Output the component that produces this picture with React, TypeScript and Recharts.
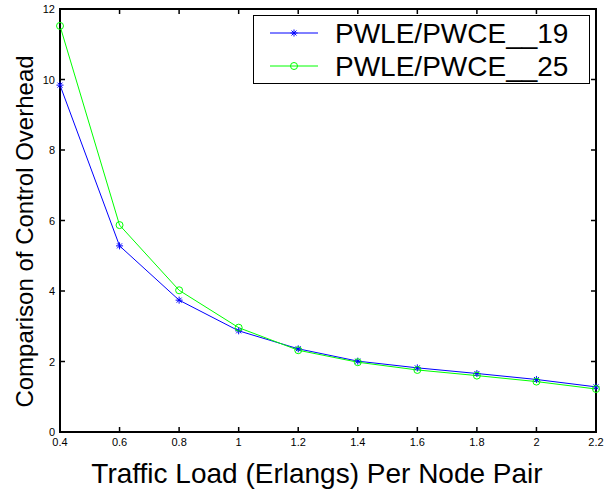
import React from "react";
import { Legend, Line, LineChart, ReferenceArea, ReferenceLine, XAxis, YAxis } from "recharts";

const loads = [0.4, 0.6, 0.8, 1.0, 1.2, 1.4, 1.6, 1.8, 2.0, 2.2];
const pwce19 = [9.84, 5.28, 3.74, 2.87, 2.36, 2.01, 1.82, 1.66, 1.49, 1.28];
const pwce25 = [11.52, 5.87, 4.02, 2.96, 2.32, 1.98, 1.76, 1.6, 1.43, 1.22];
const xTicks = [0.4, 0.6, 0.8, 1, 1.2, 1.4, 1.6, 1.8, 2, 2.2];
const yTicks = [0, 2, 4, 6, 8, 10, 12];

const data = loads.map((x, i) => ({ x, s19: pwce19[i], s25: pwce25[i] }));

const BLUE = "#0000ff";
const GREEN = "#00ff00";
const FRAME = "#000";

const W = 604;
const H = 495;
const MARGIN = { top: 9, right: 8, bottom: 0, left: 0 };
const Y_AXIS_W = 60;
const X_AXIS_H = 63;
// plot box size, used to mirror the inward ticks onto the top and right edges
const PLOT_W = W - MARGIN.left - MARGIN.right - Y_AXIS_W;
const PLOT_H = H - MARGIN.top - MARGIN.bottom - X_AXIS_H;
const TICK = 5;

function Star({ cx, cy, color }: { cx: number; cy: number; color: string }) {
  const r = 3.5;
  const d = 2.5;
  return (
    <g stroke={color} strokeWidth={1}>
      <line x1={cx - r} y1={cy} x2={cx + r} y2={cy} />
      <line x1={cx} y1={cy - r} x2={cx} y2={cy + r} />
      <line x1={cx - d} y1={cy - d} x2={cx + d} y2={cy + d} />
      <line x1={cx - d} y1={cy + d} x2={cx + d} y2={cy - d} />
    </g>
  );
}

const starDot = (p: any) => <Star key={p.index} cx={p.cx} cy={p.cy} color={BLUE} />;
const circleDot = (p: any) => (
  <circle key={p.index} cx={p.cx} cy={p.cy} r={3.5} fill="none" stroke={GREEN} strokeWidth={1} />
);

// inward tick marks on all four sides, MATLAB style
const BottomTick = (p: any) => (
  <g>
    <path d={`M${p.x},${p.y}V${p.y - TICK}`} stroke={FRAME} strokeWidth={1.5} />
    <path d={`M${p.x},${p.y - PLOT_H}V${p.y - PLOT_H + TICK}`} stroke={FRAME} strokeWidth={1.5} />
    <text x={p.x} y={p.y + 14} textAnchor="middle" fontSize={11} fill="#000">
      {p.payload.value}
    </text>
  </g>
);
const LeftTick = (p: any) => (
  <g>
    <path d={`M${p.x},${p.y}H${p.x + TICK}`} stroke={FRAME} strokeWidth={1.5} />
    <path d={`M${p.x + PLOT_W},${p.y}H${p.x + PLOT_W - TICK}`} stroke={FRAME} strokeWidth={1.5} />
    <text x={p.x - 5} y={p.y + 4} textAnchor="end" fontSize={11} fill="#000">
      {p.payload.value}
    </text>
  </g>
);

function LegendBox({ payload }: any) {
  return (
    <div
      style={{
        width: 337,
        height: 69,
        border: "1px solid #000",
        boxSizing: "border-box",
        background: "#fff",
      }}
    >
      <svg width={335} height={67} style={{ display: "block" }}>
        {(payload || []).map((p: any, i: number) => {
          const cy = 17 + i * 33;
          return (
            <g key={p.value}>
              <line x1={16} y1={cy} x2={64} y2={cy} stroke={p.color} />
              {p.dataKey === "s19" ? (
                <Star cx={40} cy={cy} color={p.color} />
              ) : (
                <circle cx={40} cy={cy} r={3.5} fill="none" stroke={p.color} />
              )}
              <text x={81} y={cy + 10} fontSize={28} fill="#000">
                {p.value}
              </text>
            </g>
          );
        })}
      </svg>
    </div>
  );
}

export default function App() {
  return (
    <div
      style={{
        position: "absolute",
        left: 0,
        top: 0,
        fontFamily: "'Liberation Sans', Arial, sans-serif",
        background: "#fff",
      }}
    >
      <LineChart width={W} height={H} data={data} margin={MARGIN}>
        <XAxis
          dataKey="x"
          type="number"
          domain={[0.4, 2.2]}
          ticks={xTicks}
          interval={0}
          height={X_AXIS_H}
          tickSize={0}
          tickMargin={0}
          tick={BottomTick}
          axisLine={{ stroke: "#000", strokeWidth: 2 }}
          label={{
            value: "Traffic Load (Erlangs) Per Node Pair",
            position: "insideBottom",
            offset: 12,
            dx: -11,
            fontSize: 28,
            fill: "#000",
          }}
        />
        <YAxis
          type="number"
          domain={[0, 12]}
          ticks={yTicks}
          interval={0}
          width={Y_AXIS_W}
          tickSize={0}
          tickMargin={0}
          tick={LeftTick}
          axisLine={{ stroke: "#000", strokeWidth: 2 }}
          label={{
            value: "Comparison of Control Overhead",
            angle: -90,
            position: "center",
            dx: -6,
            dy: 11,
            fontSize: 24,
            fill: "#000",
          }}
        />
        {/* box around the axes */}
        <ReferenceArea
          x1={0.4}
          x2={2.2}
          y1={0}
          y2={12}
          fill="none"
          fillOpacity={0}
          stroke={FRAME}
          strokeWidth={2}
          strokeOpacity={1}
          ifOverflow="visible"
        />
        <ReferenceLine y={12} stroke={FRAME} strokeWidth={2} ifOverflow="visible" />
        <ReferenceLine x={2.2} stroke={FRAME} strokeWidth={2} ifOverflow="visible" />
        <Legend
          layout="vertical"
          align="center"
          verticalAlign="middle"
          wrapperStyle={{ left: 253, top: 15, width: 337, height: 69 }}
          content={LegendBox}
        />
        <Line
          dataKey="s19"
          name="PWLE/PWCE__19"
          stroke={BLUE}
          strokeWidth={1}
          dot={starDot}
          isAnimationActive={false}
        />
        <Line
          dataKey="s25"
          name="PWLE/PWCE__25"
          stroke={GREEN}
          strokeWidth={1}
          dot={circleDot}
          isAnimationActive={false}
        />
      </LineChart>
    </div>
  );
}
